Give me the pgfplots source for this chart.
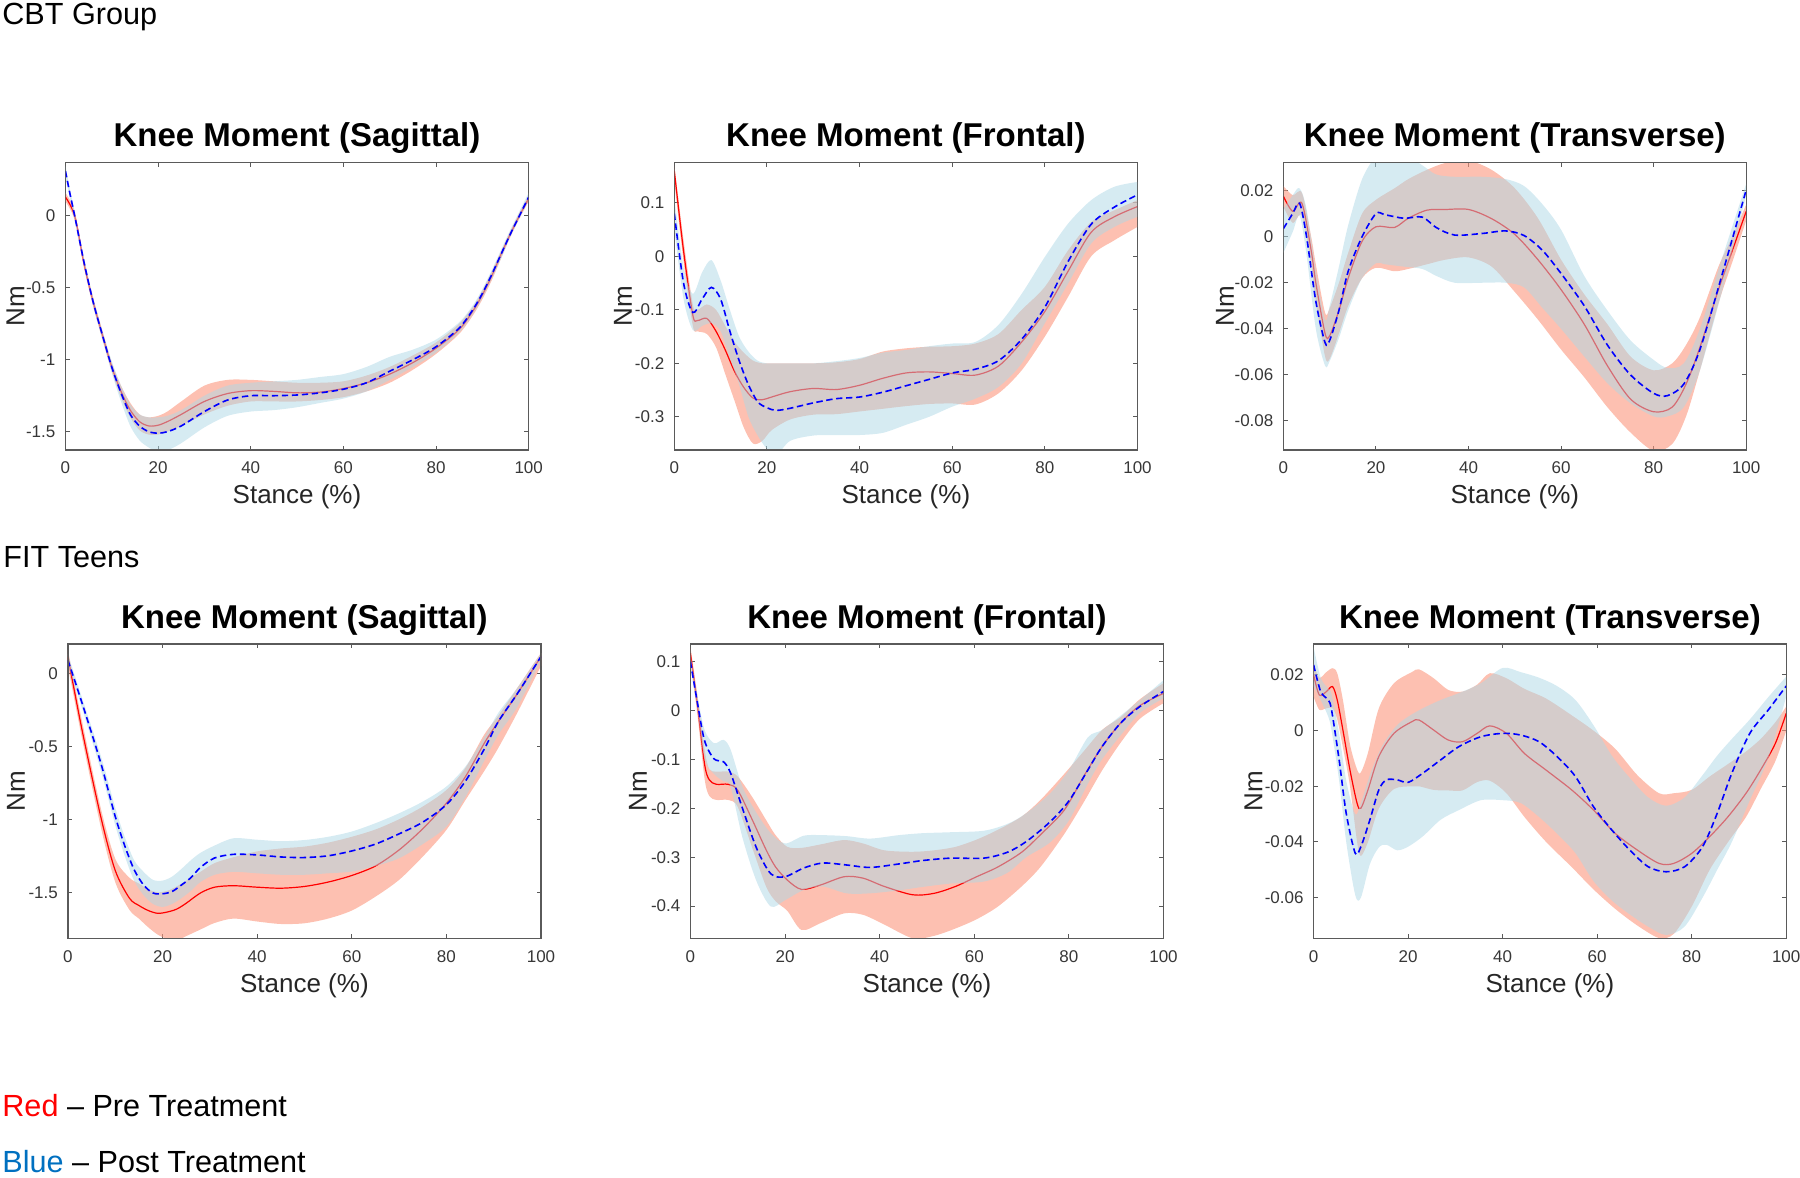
\documentclass[border=0pt]{standalone}
\usepackage{pgfplots}
\pgfplotsset{compat=1.18}
\usepackage{pgfplotstable}
\usepgfplotslibrary{fillbetween}
\usepackage{fontspec}
\setmainfont{Liberation Sans}
\tikzset{fill between/on layer=main}

\definecolor{redband}{RGB}{252,150,125}
\definecolor{blueband}{RGB}{173,216,230}
\definecolor{axgray}{RGB}{90,90,90}
\definecolor{tickgray}{RGB}{55,55,55}
\definecolor{txtblue}{RGB}{0,112,192}

% ---------------- CBT Sagittal ----------------
\pgfplotstableread{
x m lo hi
0 0.13 0.10 0.16
2 0.00 -0.03 0.03
4 -0.33 -0.36 -0.30
6 -0.60 -0.63 -0.57
8 -0.83 -0.86 -0.80
10 -1.05 -1.08 -1.02
12 -1.22 -1.26 -1.18
14 -1.35 -1.40 -1.30
16 -1.43 -1.49 -1.38
18 -1.46 -1.52 -1.40
20 -1.455 -1.52 -1.39
22 -1.43 -1.50 -1.36
25 -1.38 -1.46 -1.29
30 -1.29 -1.38 -1.18
35 -1.235 -1.32 -1.14
40 -1.215 -1.29 -1.14
45 -1.22 -1.29 -1.15
50 -1.23 -1.29 -1.16
55 -1.225 -1.28 -1.16
60 -1.20 -1.26 -1.15
65 -1.16 -1.22 -1.11
70 -1.10 -1.16 -1.05
75 -1.02 -1.07 -0.97
80 -0.92 -0.96 -0.88
85 -0.79 -0.82 -0.75
88 -0.66 -0.69 -0.63
90 -0.55 -0.58 -0.52
92 -0.42 -0.45 -0.39
94 -0.27 -0.30 -0.25
96 -0.13 -0.15 -0.11
98 0.00 -0.02 0.02
100 0.12 0.10 0.14
}\cbtSagPre
\pgfplotstableread{
x m lo hi
0 0.31 0.27 0.35
1 0.15 0.12 0.18
2 0.00 -0.03 0.03
4 -0.32 -0.35 -0.29
6 -0.60 -0.63 -0.57
8 -0.83 -0.86 -0.80
10 -1.05 -1.09 -1.01
12 -1.23 -1.29 -1.18
14 -1.38 -1.46 -1.31
16 -1.46 -1.56 -1.38
18 -1.50 -1.61 -1.40
20 -1.51 -1.64 -1.40
22 -1.50 -1.63 -1.39
25 -1.46 -1.58 -1.35
30 -1.36 -1.47 -1.25
35 -1.28 -1.39 -1.18
40 -1.25 -1.36 -1.16
45 -1.25 -1.35 -1.15
50 -1.245 -1.33 -1.14
55 -1.23 -1.30 -1.12
60 -1.205 -1.27 -1.10
65 -1.16 -1.22 -1.05
70 -1.08 -1.14 -0.98
75 -1.00 -1.05 -0.93
80 -0.91 -0.95 -0.86
85 -0.78 -0.81 -0.74
88 -0.65 -0.68 -0.62
90 -0.54 -0.57 -0.51
92 -0.41 -0.44 -0.38
94 -0.27 -0.30 -0.24
96 -0.13 -0.15 -0.10
98 0.00 -0.02 0.03
100 0.13 0.11 0.16
}\cbtSagPost

% ---------------- CBT Frontal ----------------
\pgfplotstableread{
x m lo hi
0 0.16 0.14 0.17
2 0.01 -0.01 0.03
4 -0.11 -0.13 -0.09
5 -0.12 -0.14 -0.10
7 -0.116 -0.145 -0.09
9 -0.14 -0.17 -0.10
11 -0.175 -0.22 -0.13
13 -0.215 -0.27 -0.16
15 -0.245 -0.32 -0.18
17 -0.265 -0.35 -0.195
19 -0.268 -0.345 -0.20
21 -0.263 -0.325 -0.20
25 -0.253 -0.305 -0.20
30 -0.247 -0.296 -0.200
35 -0.249 -0.295 -0.198
40 -0.241 -0.29 -0.192
45 -0.228 -0.285 -0.178
50 -0.218 -0.28 -0.172
55 -0.216 -0.276 -0.169
60 -0.219 -0.275 -0.168
65 -0.222 -0.277 -0.163
70 -0.205 -0.256 -0.145
75 -0.16 -0.213 -0.10
80 -0.103 -0.15 -0.057
85 -0.028 -0.076 0.011
90 0.045 0.0 0.064
95 0.074 0.03 0.086
100 0.093 0.055 0.105
}\cbtFroPre
\pgfplotstableread{
x m lo hi
0 0.08 0.05 0.11
2 -0.05 -0.08 -0.02
4 -0.105 -0.138 -0.07
6 -0.08 -0.13 -0.03
8 -0.058 -0.125 -0.007
10 -0.08 -0.14 -0.045
12 -0.14 -0.19 -0.10
14 -0.195 -0.24 -0.15
16 -0.24 -0.30 -0.178
18 -0.272 -0.335 -0.195
20 -0.283 -0.36 -0.20
22 -0.288 -0.372 -0.20
25 -0.284 -0.345 -0.20
30 -0.274 -0.335 -0.20
35 -0.266 -0.334 -0.196
40 -0.263 -0.334 -0.19
45 -0.254 -0.33 -0.18
50 -0.242 -0.315 -0.175
55 -0.23 -0.30 -0.168
60 -0.218 -0.281 -0.163
65 -0.211 -0.266 -0.16
70 -0.195 -0.244 -0.128
75 -0.155 -0.20 -0.07
80 -0.095 -0.125 -0.001
85 -0.01 -0.051 0.061
90 0.06 0.024 0.105
95 0.092 0.055 0.13
100 0.115 0.074 0.139
}\cbtFroPost

% ---------------- CBT Transverse ----------------
\pgfplotstableread{
x m lo hi
0 0.0175 0.013 0.022
2 0.011 0.006 0.018
4 0.0145 0.009 0.019
6 -0.006 -0.012 0.000
7 -0.020 -0.028 -0.012
9 -0.042 -0.052 -0.033
10 -0.043 -0.053 -0.031
12 -0.032 -0.042 -0.020
14 -0.018 -0.030 -0.007
17 -0.002 -0.018 0.010
20 0.0043 -0.0135 0.016
24 0.004 -0.015 0.021
27 0.008 -0.014 0.025
31 0.0115 -0.012 0.029
35 0.0118 -0.010 0.032
40 0.0118 -0.009 0.033
45 0.0078 -0.013 0.029
50 0.001 -0.024 0.021
55 -0.010 -0.036 0.008
60 -0.023 -0.049 -0.010
65 -0.038 -0.061 -0.025
70 -0.056 -0.074 -0.038
75 -0.0705 -0.085 -0.052
80 -0.076 -0.093 -0.058
84 -0.074 -0.090 -0.055
87 -0.064 -0.078 -0.047
90 -0.048 -0.058 -0.035
94 -0.023 -0.029 -0.013
97 -0.006 -0.011 0.000
100 0.011 0.007 0.014
}\cbtTraPre
\pgfplotstableread{
x m lo hi
0 0.0035 -0.007 0.012
2 0.010 0.002 0.018
3.5 0.0145 0.009 0.021
5 0.000 -0.008 0.012
7 -0.028 -0.040 -0.015
9 -0.046 -0.056 -0.036
10 -0.045 -0.054 -0.030
12 -0.032 -0.044 -0.013
14 -0.015 -0.032 0.005
17 0.000 -0.018 0.025
20 0.010 -0.0115 0.035
22 0.0095 -0.012 0.036
26 0.008 -0.013 0.036
30 0.0085 -0.014 0.031
33 0.004 -0.017 0.027
37 0.0007 -0.020 0.026
43 0.0014 -0.020 0.026
48 0.0025 -0.020 0.025
52 0.0005 -0.022 0.022
56 -0.006 -0.031 0.014
60 -0.016 -0.040 0.003
65 -0.030 -0.052 -0.017
70 -0.047 -0.0636 -0.032
75 -0.060 -0.0723 -0.045
80 -0.068 -0.078 -0.0535
83 -0.069 -0.078 -0.057
86.5 -0.064 -0.074 -0.055
90 -0.049 -0.058 -0.040
95 -0.015 -0.022 -0.008
100 0.0203 0.018 0.023
}\cbtTraPost

% ---------------- FIT Sagittal ----------------
\pgfplotstableread{
x m lo hi
0 0.114 0.05 0.16
3 -0.39 -0.45 -0.33
7 -0.99 -1.06 -0.93
10 -1.35 -1.43 -1.27
13 -1.54 -1.62 -1.40
15 -1.59 -1.68 -1.44
17 -1.625 -1.74 -1.48
19 -1.644 -1.79 -1.50
21 -1.635 -1.82 -1.49
23 -1.615 -1.83 -1.46
25 -1.575 -1.80 -1.42
28 -1.505 -1.755 -1.36
31 -1.465 -1.71 -1.30
35 -1.455 -1.68 -1.26
40 -1.465 -1.70 -1.22
45 -1.472 -1.717 -1.20
50 -1.46 -1.712 -1.187
55 -1.43 -1.68 -1.16
60 -1.385 -1.625 -1.12
65 -1.32 -1.53 -1.07
70 -1.21 -1.415 -1.00
75 -1.065 -1.256 -0.913
80 -0.89 -1.073 -0.80
84 -0.71 -0.87 -0.65
88 -0.48 -0.67 -0.42
91 -0.33 -0.51 -0.29
95 -0.14 -0.27 -0.10
100 0.114 0.05 0.14
}\fitSagPre
\pgfplotstableread{
x m lo hi
0 0.09 0.06 0.13
3 -0.205 -0.24 -0.17
7 -0.62 -0.67 -0.57
10 -0.98 -1.04 -0.92
12 -1.18 -1.25 -1.12
14 -1.345 -1.42 -1.28
16 -1.45 -1.52 -1.36
18 -1.505 -1.58 -1.415
20 -1.51 -1.60 -1.42
22 -1.495 -1.58 -1.393
24 -1.45 -1.54 -1.34
26 -1.40 -1.49 -1.28
28 -1.33 -1.43 -1.23
31 -1.265 -1.38 -1.18
35 -1.24 -1.36 -1.13
40 -1.244 -1.37 -1.14
45 -1.258 -1.38 -1.15
50 -1.262 -1.38 -1.142
55 -1.25 -1.37 -1.12
60 -1.217 -1.358 -1.084
65 -1.17 -1.32 -1.027
70 -1.10 -1.267 -0.959
75 -1.02 -1.17 -0.879
80 -0.90 -1.05 -0.776
84 -0.74 -0.85 -0.64
88 -0.52 -0.60 -0.44
91 -0.33 -0.42 -0.27
95 -0.14 -0.23 -0.10
100 0.114 0.09 0.137
}\fitSagPost

% ---------------- FIT Frontal ----------------
\pgfplotstableread{
x m lo hi
0 0.117 0.10 0.13
1.5 0.01 -0.01 0.03
3 -0.11 -0.14 -0.08
4 -0.142 -0.175 -0.12
5.5 -0.151 -0.183 -0.125
8 -0.151 -0.183 -0.125
10 -0.163 -0.197 -0.135
13 -0.222 -0.279 -0.176
16 -0.285 -0.36 -0.224
18 -0.32 -0.39 -0.255
20.5 -0.347 -0.41 -0.279
23.5 -0.366 -0.449 -0.281
27.5 -0.357 -0.435 -0.274
32.5 -0.34 -0.415 -0.265
36.5 -0.343 -0.418 -0.272
41 -0.36 -0.438 -0.286
47 -0.377 -0.466 -0.289
51.5 -0.374 -0.461 -0.286
56 -0.36 -0.446 -0.279
60.5 -0.34 -0.427 -0.264
65 -0.32 -0.401 -0.244
70 -0.29 -0.36 -0.217
74 -0.254 -0.32 -0.183
79 -0.204 -0.253 -0.13
83 -0.137 -0.19 -0.085
87 -0.074 -0.123 -0.04
91 -0.025 -0.065 -0.013
95 0.01 -0.017 0.023
100 0.035 0.015 0.056
}\fitFroPre
\pgfplotstableread{
x m lo hi
0 0.10 0.09 0.115
1.5 0.015 0.0 0.03
3 -0.062 -0.10 -0.04
5 -0.099 -0.13 -0.067
7 -0.105 -0.145 -0.06
8.5 -0.128 -0.156 -0.08
11 -0.20 -0.26 -0.156
14 -0.282 -0.35 -0.21
17 -0.334 -0.401 -0.251
20 -0.34 -0.388 -0.272
24 -0.322 -0.367 -0.256
28 -0.312 -0.36 -0.255
33 -0.316 -0.374 -0.257
38 -0.321 -0.374 -0.262
44 -0.314 -0.368 -0.255
49 -0.307 -0.361 -0.251
55 -0.302 -0.354 -0.249
62 -0.302 -0.35 -0.246
67 -0.29 -0.332 -0.232
71 -0.268 -0.30 -0.21
76 -0.228 -0.27 -0.17
80 -0.185 -0.225 -0.122
84 -0.122 -0.15 -0.055
87 -0.074 -0.10 -0.04
91 -0.025 -0.05 -0.01
95 0.008 -0.005 0.021
100 0.039 0.025 0.062
}\fitFroPost

% ---------------- FIT Transverse ----------------
\pgfplotstableread{
x m lo hi
0 0.020 0.0122 0.024
1.2 0.0128 0.0075 0.019
2.7 0.014 0.008 0.021
4 0.0158 0.008 0.0224
5 0.011 0.004 0.0206
6.2 0.0002 -0.006 0.011
7.7 -0.0142 -0.020 -0.005
9.2 -0.0261 -0.040 -0.014
10 -0.0279 -0.045 -0.015
11.5 -0.0213 -0.040 -0.008
13.8 -0.0093 -0.028 0.008
17 -0.001 -0.021 0.017
20.8 0.0032 -0.020 0.021
22.3 0.0038 -0.020 0.022
25.4 0.0002 -0.0213 0.0188
28.5 -0.0034 -0.0215 0.0146
31.5 -0.004 -0.0215 0.014
34.6 -0.001 -0.0185 0.0165
37.3 0.0017 -0.018 0.0206
40.8 -0.001 -0.0225 0.0188
44.6 -0.0082 -0.031 0.015
49.2 -0.0142 -0.040 0.0115
54.6 -0.0213 -0.049 0.0055
59.2 -0.0285 -0.057 0.0
63.8 -0.0369 -0.064 -0.0065
68.5 -0.0429 -0.070 -0.016
73.1 -0.0477 -0.0745 -0.0225
76.2 -0.0477 -0.073 -0.0225
80 -0.0441 -0.0632 -0.0213
83.8 -0.0381 -0.050 -0.0165
87.7 -0.0309 -0.040 -0.012
91.5 -0.0225 -0.031 -0.0075
94.6 -0.0141 -0.021 -0.003
97.7 -0.0046 -0.011 0.003
100 0.0062 0.0 0.0086
}\fitTraPre
\pgfplotstableread{
x m lo hi
0 0.0236 0.016 0.030
1.5 0.014 0.011 0.019
3.1 0.011 0.005 0.015
3.8 0.0074 0.0 0.013
5.4 -0.0105 -0.018 -0.001
6.9 -0.0297 -0.040 -0.018
8.8 -0.044 -0.059 -0.030
10 -0.0417 -0.060 -0.026
11.9 -0.0321 -0.048 -0.016
13.8 -0.0213 -0.042 -0.008
15.4 -0.0177 -0.041 -0.003
17.7 -0.0177 -0.043 0.002
20 -0.0186 -0.0417 0.005
23.1 -0.0153 -0.038 0.008
26.9 -0.0105 -0.032 0.011
30.8 -0.0057 -0.0285 0.0135
35.4 -0.0022 -0.025 0.017
40 -0.001 -0.025 0.0225
43.8 -0.0016 -0.026 0.021
47.7 -0.004 -0.031 0.019
51.5 -0.0093 -0.037 0.016
55.4 -0.0165 -0.044 0.011
59.2 -0.0273 -0.054 0.002
63.1 -0.0357 -0.061 -0.009
66.9 -0.0429 -0.066 -0.017
70.8 -0.0489 -0.0704 -0.024
74.6 -0.0507 -0.0734 -0.027
78.5 -0.0489 -0.0704 -0.024
82.3 -0.0417 -0.060 -0.016
85.4 -0.0297 -0.050 -0.009
88.5 -0.0153 -0.040 -0.003
92.3 -0.001 -0.025 0.004
96.2 0.0074 -0.010 0.012
100 0.016 0.0122 0.0194
}\fitTraPost

\pgfplotsset{
  panel/.style={
    scale only axis, anchor=south west,
    xmin=0, xmax=100, xtick={0,20,40,60,80,100},
    scaled y ticks=false, scaled x ticks=false,
    tick align=inside, xtick pos=both, ytick pos=both,
    major tick length=2.2pt,
    axis line style={axgray, line width=0.6pt},
    every tick/.style={axgray, line width=0.5pt},
    ticklabel style={font=\fontsize{8.5}{8.5}\selectfont, text=tickgray},
    xticklabel style={yshift=-2.5pt},
    yticklabel style={xshift=-1.5pt},
    /pgf/number format/assume math mode=true,
    clip=true,
  },
  preline/.style={red, line width=0.6pt, smooth},
  postline/.style={blue, line width=0.8pt, smooth, dash pattern=on 3.2pt off 1.8pt},
}

\newcommand{\meanband}[4]{%
  \addplot[draw=none, smooth, name path=#2lo] table[x=x,y=lo]{#1};
  \addplot[draw=none, smooth, name path=#2hi] table[x=x,y=hi]{#1};
  \addplot[fill=#3, fill opacity=#4, draw=none] fill between[of=#2lo and #2hi];
}
\newcommand{\panelcontent}[2]{%
  \meanband{#1}{a}{redband}{0.6}
  \addplot[preline] table[x=x,y=m]{#1};
  \meanband{#2}{b}{blueband}{0.5}
  \addplot[postline] table[x=x,y=m]{#2};
  \draw[axgray, line width=0.6pt] (rel axis cs:0,0) rectangle (rel axis cs:1,1);
}

\newcommand{\ttl}{\fontsize{16.5}{16.5}\selectfont\bfseries}
\newcommand{\lbl}{\fontsize{13}{13}\selectfont}
\newcommand{\grp}{\fontsize{15.3}{15.3}\selectfont}

\begin{document}
\begin{tikzpicture}

% ---- top row ----
\begin{axis}[panel, at={(32.7pt,-225pt)}, width=231.65pt, height=143.65pt,
  ymin=-1.627, ymax=0.368, ytick={-1.5,-1,-0.5,0}, yticklabels={-1.5,-1,-0.5,0}]
\panelcontent{\cbtSagPre}{\cbtSagPost}
\end{axis}
\begin{axis}[panel, at={(337.15pt,-225pt)}, width=231.6pt, height=143.65pt,
  ymin=-0.362, ymax=0.175, ytick={-0.3,-0.2,-0.1,0,0.1}, yticklabels={-0.3,-0.2,-0.1,0,0.1}]
\panelcontent{\cbtFroPre}{\cbtFroPost}
\end{axis}
\begin{axis}[panel, at={(641.7pt,-225pt)}, width=231.4pt, height=143.65pt,
  ymin=-0.0926, ymax=0.0321, ytick={-0.08,-0.06,-0.04,-0.02,0,0.02}, yticklabels={-0.08,-0.06,-0.04,-0.02,0,0.02}]
\panelcontent{\cbtTraPre}{\cbtTraPost}
\end{axis}

% ---- bottom row ----
\begin{axis}[panel, at={(33.95pt,-469.15pt)}, width=236.55pt, height=147.15pt,
  ymin=-1.815, ymax=0.2, ytick={-1.5,-1,-0.5,0}, yticklabels={-1.5,-1,-0.5,0}]
\panelcontent{\fitSagPre}{\fitSagPost}
\end{axis}
\begin{axis}[panel, at={(345.2pt,-469.15pt)}, width=236.55pt, height=147.15pt,
  ymin=-0.466, ymax=0.136, ytick={-0.4,-0.3,-0.2,-0.1,0,0.1}, yticklabels={-0.4,-0.3,-0.2,-0.1,0,0.1}]
\panelcontent{\fitFroPre}{\fitFroPost}
\end{axis}
\begin{axis}[panel, at={(656.8pt,-469.15pt)}, width=236.3pt, height=147.15pt,
  ymin=-0.0746, ymax=0.0311, ytick={-0.06,-0.04,-0.02,0,0.02}, yticklabels={-0.06,-0.04,-0.02,0,0.02},
  xticklabels={0,20,40,60,80,\makebox[0pt]{100}}]
\panelcontent{\fitTraPre}{\fitTraPost}
\end{axis}

% ---- titles ----
\node[anchor=base, inner sep=0pt, font=\ttl] at (148.5pt,-73.4pt) {Knee Moment (Sagittal)};
\node[anchor=base, inner sep=0pt, font=\ttl] at (452.95pt,-73.4pt) {Knee Moment (Frontal)};
\node[anchor=base, inner sep=0pt, font=\ttl] at (757.4pt,-73.4pt) {Knee Moment (Transverse)};
\node[anchor=base, inner sep=0pt, font=\ttl] at (152.2pt,-314pt) {Knee Moment (Sagittal)};
\node[anchor=base, inner sep=0pt, font=\ttl] at (463.5pt,-314pt) {Knee Moment (Frontal)};
\node[anchor=base, inner sep=0pt, font=\ttl] at (774.95pt,-314pt) {Knee Moment (Transverse)};

% ---- x labels ----
\node[anchor=base, inner sep=0pt, font=\lbl, text=black!85] at (148.5pt,-251.5pt) {Stance (\%)};
\node[anchor=base, inner sep=0pt, font=\lbl, text=black!85] at (452.95pt,-251.5pt) {Stance (\%)};
\node[anchor=base, inner sep=0pt, font=\lbl, text=black!85] at (757.4pt,-251.5pt) {Stance (\%)};
\node[anchor=base, inner sep=0pt, font=\lbl, text=black!85] at (152.2pt,-496pt) {Stance (\%)};
\node[anchor=base, inner sep=0pt, font=\lbl, text=black!85] at (463.5pt,-496pt) {Stance (\%)};
\node[anchor=base, inner sep=0pt, font=\lbl, text=black!85] at (774.95pt,-496pt) {Stance (\%)};

% ---- y labels ----
\node[rotate=90, inner sep=0pt, font=\lbl, text=black!85] at (7.75pt,-153.2pt) {Nm};
\node[rotate=90, inner sep=0pt, font=\lbl, text=black!85] at (311.5pt,-153.2pt) {Nm};
\node[rotate=90, inner sep=0pt, font=\lbl, text=black!85] at (612.5pt,-153.2pt) {Nm};
\node[rotate=90, inner sep=0pt, font=\lbl, text=black!85] at (8pt,-395.6pt) {Nm};
\node[rotate=90, inner sep=0pt, font=\lbl, text=black!85] at (319pt,-395.6pt) {Nm};
\node[rotate=90, inner sep=0pt, font=\lbl, text=black!85] at (626.75pt,-395.6pt) {Nm};

% ---- group labels and key ----
\node[anchor=base west, inner sep=0pt, font=\grp] at (1pt,-12.25pt) {CBT Group};
\node[anchor=base west, inner sep=0pt, font=\grp] at (1.5pt,-283.75pt) {FIT Teens};
\node[anchor=base west, inner sep=0pt, font=\grp] at (1pt,-558pt) {\textcolor{red}{Red} – Pre Treatment};
\node[anchor=base west, inner sep=0pt, font=\grp] at (1pt,-586.3pt) {\textcolor{txtblue}{Blue} – Post Treatment};

\path (0,0) rectangle (900pt,-589pt);
\end{tikzpicture}
\end{document}
